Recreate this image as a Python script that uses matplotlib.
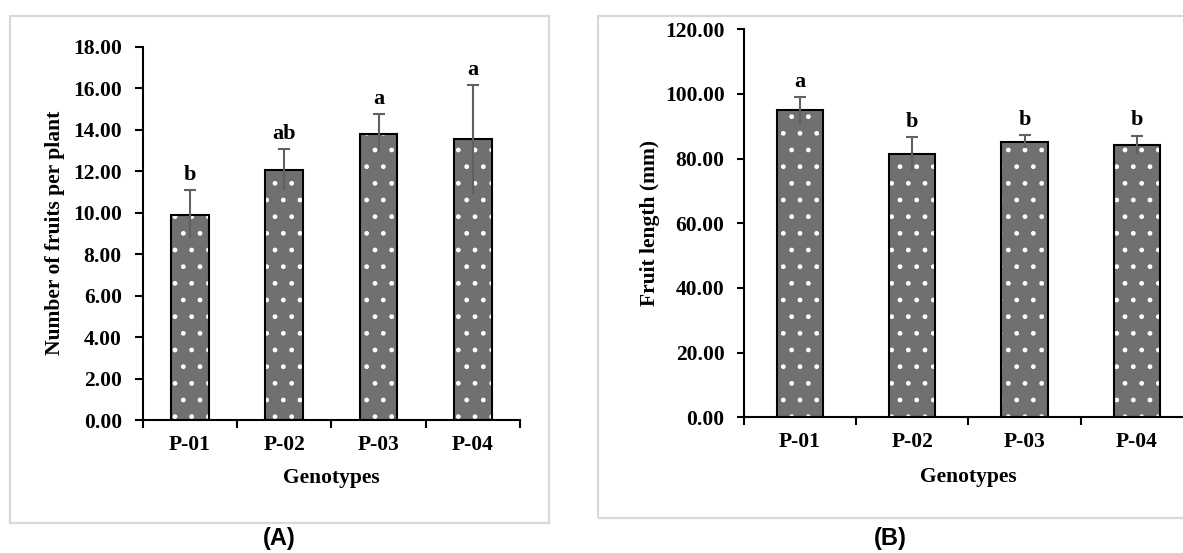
import matplotlib
matplotlib.use('Agg')
import matplotlib.pyplot as plt
import numpy as np
from matplotlib.patches import Rectangle
from matplotlib.ticker import FixedLocator, FormatStrFormatter, NullFormatter

# ---------------- data ----------------
genotypes = ['P-01', 'P-02', 'P-03', 'P-04']
fruits_mean = [9.90, 12.07, 13.81, 13.53]
fruits_err = [1.17, 0.98, 0.94, 2.61]
fruits_letters = ['b', 'ab', 'a', 'a']
length_mean = [94.9, 81.4, 85.2, 84.3]
length_err = [4.1, 5.3, 2.0, 2.8]
length_letters = ['a', 'b', 'b', 'b']

W, H = 1183, 553
SERIF = 'Liberation Serif'
FS = 15.5
fig = plt.figure(figsize=(W / 100, H / 100), dpi=100)
fig.patch.set_facecolor('white')
plt.rcParams['hatch.linewidth'] = 1.0


def px_rect(x0, y0, x1, y1):
    """pixel box (top-left origin) -> figure fraction [l, b, w, h]"""
    return [x0 / W, 1 - y1 / H, (x1 - x0) / W, (y1 - y0) / H]


# panel frames (light grey)
for (x0, y0, x1, y1) in [(10, 16, 549, 522.7), (598.3, 16, 1200, 518)]:
    l, b, w, h = px_rect(x0, y0, x1, y1)
    fig.patches.append(Rectangle((l, b), w, h, transform=fig.transFigure,
                                 fill=False, edgecolor='#d9d9d9', linewidth=1.6))


def draw_panel(ax, means, errs, letters, ymax, ystep, ylabel, bar_w,
               ylabel_x, xlabel_y, ytick_len):
    x = np.arange(1, len(genotypes) + 1)
    # patterned fill
    ax.bar(x, means, bar_w, color='#707070', edgecolor='white', hatch='.',
           linewidth=0, zorder=2)
    ax.bar(x, means, bar_w, fill=False, edgecolor='black', linewidth=1.5, zorder=3)
    eb = ax.errorbar(x, means, yerr=[errs, errs], fmt='none', ecolor='#606060',
                     elinewidth=1.5, capsize=4.5, capthick=1.5, zorder=4)
    eb[1][0].set_visible(False)  # hide lower caps
    for xi, m, e, lab in zip(x, means, errs, letters):
        ax.annotate(lab, (xi, m + e), xytext=(0, 7.5), textcoords='offset points',
                    ha='center', va='baseline', fontsize=FS + 0.5, fontweight='bold',
                    family=SERIF, color='black')
    ax.set_xlim(0.5, len(genotypes) + 0.5)
    ax.set_ylim(0, ymax)
    ax.set_yticks(np.arange(0, ymax + ystep / 2, ystep))
    ax.yaxis.set_major_formatter(FormatStrFormatter('%.2f'))
    ax.xaxis.set_major_locator(FixedLocator(np.arange(0.5, len(genotypes) + 1, 1.0)))
    ax.xaxis.set_major_formatter(NullFormatter())
    ax.xaxis.set_minor_locator(FixedLocator(x))
    ax.set_xticklabels(genotypes, minor=True)
    ax.tick_params(axis='x', which='major', direction='out', length=6, width=1.5)
    ax.tick_params(axis='x', which='minor', length=0, pad=10.5)
    ax.tick_params(axis='y', direction='out', length=ytick_len, width=1.5, pad=9)
    for lab in ax.get_xticklabels(minor=True) + ax.get_yticklabels():
        lab.set_fontfamily(SERIF)
        lab.set_fontweight('bold')
        lab.set_fontsize(FS)
    for s in ['top', 'right']:
        ax.spines[s].set_visible(False)
    for s in ['left', 'bottom']:
        ax.spines[s].set_linewidth(1.5)
        ax.spines[s].set_color('black')
    ax.set_ylabel(ylabel, fontsize=FS, fontweight='bold', family=SERIF, va='center')
    ax.yaxis.set_label_coords(ylabel_x, 0.5)
    ax.set_xlabel('Genotypes', fontsize=FS, fontweight='bold', family=SERIF, va='center')
    ax.xaxis.set_label_coords(0.5, xlabel_y)
    ax.patch.set_alpha(0)


axA = fig.add_axes(px_rect(142.7, 46.7, 520, 420))
draw_panel(axA, fruits_mean, fruits_err, fruits_letters, 18, 2,
           'Number of fruits per plant', 0.4, -0.2335, -0.155, 6)

axB = fig.add_axes(px_rect(744, 29.3, 1192.8, 417.3))
draw_panel(axB, length_mean, length_err, length_letters, 120, 20,
           'Fruit length (mm)', 0.41, -0.2103, -0.153, 5)

fig.text(279 / W, 1 - 539 / H, '(A)', ha='center', va='center', fontsize=17,
         fontweight='bold', family='Liberation Sans')
fig.text(890 / W, 1 - 539 / H, '(B)', ha='center', va='center', fontsize=17,
         fontweight='bold', family='Liberation Sans')

fig.savefig('out.png', dpi=100)
